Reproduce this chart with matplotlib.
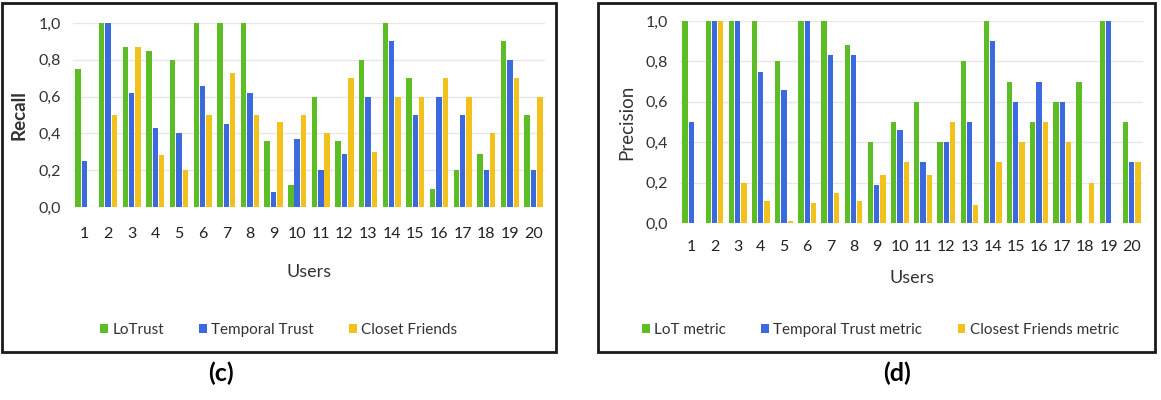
import numpy as np
import matplotlib
matplotlib.use("Agg")
import matplotlib.pyplot as plt
from matplotlib.patches import Rectangle

users = list(range(1, 21))

# (c) Recall
recall_lotrust = [0.75, 1.0, 0.87, 0.85, 0.80, 1.0, 1.0, 1.0, 0.36, 0.12,
                  0.60, 0.36, 0.80, 1.0, 0.70, 0.10, 0.20, 0.29, 0.90, 0.50]
recall_temporal = [0.25, 1.0, 0.62, 0.43, 0.40, 0.66, 0.45, 0.62, 0.08, 0.37,
                   0.20, 0.29, 0.60, 0.90, 0.50, 0.60, 0.50, 0.20, 0.80, 0.20]
recall_closet = [0.0, 0.50, 0.87, 0.28, 0.20, 0.50, 0.73, 0.50, 0.46, 0.50,
                 0.40, 0.70, 0.30, 0.60, 0.60, 0.70, 0.60, 0.40, 0.70, 0.60]

# (d) Precision
prec_lot = [1.0, 1.0, 1.0, 1.0, 0.80, 1.0, 1.0, 0.88, 0.40, 0.50,
            0.60, 0.40, 0.80, 1.0, 0.70, 0.50, 0.60, 0.70, 1.0, 0.50]
prec_temporal = [0.50, 1.0, 1.0, 0.75, 0.66, 1.0, 0.83, 0.83, 0.19, 0.46,
                 0.30, 0.40, 0.50, 0.90, 0.60, 0.70, 0.60, 0.0, 1.0, 0.30]
prec_closest = [0.0, 1.0, 0.20, 0.11, 0.01, 0.10, 0.15, 0.11, 0.24, 0.30,
                0.24, 0.50, 0.09, 0.30, 0.40, 0.50, 0.40, 0.20, 0.0, 0.30]

yticks = [0.0, 0.2, 0.4, 0.6, 0.8, 1.0]
ytick_labels = ["0,0", "0,2", "0,4", "0,6", "0,8", "1,0"]

green = "#5cbd24"
blue = "#3b6ade"
yellow = "#f3c11c"
text_col = "#333333"

plt.rcParams["font.family"] = ["Lato", "DejaVu Sans"]

W, H = 1161, 400
fig = plt.figure(figsize=(W / 100, H / 100), dpi=100)


def px_axes(x0, x1, ytop, ybot):
    return fig.add_axes([x0 / W, 1 - ybot / H, (x1 - x0) / W, (ybot - ytop) / H])


def draw_panel(ax, series, labels, xpad):
    x = np.array(users)
    step = 0.27
    handles = []
    for i, (vals, lab, col) in enumerate(zip(series, labels, [green, blue, yellow])):
        h = ax.bar(x + (i - 1) * step, vals, width=0.23, color=col, label=lab, zorder=3)
        handles.append(h)
    ax.set_xlim(0.5, 20.5)
    ax.set_ylim(0, 1.0)
    ax.set_yticks(yticks)
    ax.set_yticklabels(ytick_labels, fontsize=11.5, color=text_col)
    ax.set_xticks(x)
    ax.set_xticklabels([str(u) for u in users], fontsize=11.5, color="#222222")
    ax.tick_params(axis="both", length=0)
    ax.tick_params(axis="x", pad=xpad)
    ax.tick_params(axis="y", pad=8.5)
    ax.grid(axis="y", color="#e8e8e8", linewidth=1, zorder=0)
    for s in ax.spines.values():
        s.set_visible(False)
    return handles


def add_legend(handles, x_left):
    fig.legend(handles=handles, loc="center left", bbox_to_anchor=(x_left / W, 1 - 330 / H),
               ncol=3, frameon=False, fontsize=11, handlelength=0.5, handleheight=0.5,
               handletextpad=0.3, columnspacing=2.3, borderpad=0, borderaxespad=0,
               labelcolor=text_col)


# left panel (c)
ax1 = px_axes(72.6, 545.4, 23, 207)
h1 = draw_panel(ax1, [recall_lotrust, recall_temporal, recall_closet],
                ["LoTrust", "Temporal Trust", "Closet Friends"], 14.5)
fig.text(19 / W, 1 - 115 / H, "Recall", fontsize=13.5, fontweight="bold", color=text_col,
         rotation=90, ha="center", va="center")
fig.text(309 / W, 1 - 272 / H, "Users", fontsize=13, color=text_col, ha="center", va="center")
add_legend(h1, 100)

# right panel (d)
ax2 = px_axes(679.7, 1143.3, 21, 223)
h2 = draw_panel(ax2, [prec_lot, prec_temporal, prec_closest],
                ["LoT metric", "Temporal Trust metric", "Closest Friends metric"], 12)
fig.text(627 / W, 1 - 122 / H, "Precision", fontsize=13.5, color=text_col,
         rotation=90, ha="center", va="center")
fig.text(912 / W, 1 - 278 / H, "Users", fontsize=13, color=text_col, ha="center", va="center")
add_legend(h2, 642)

# panel borders
for x0, x1 in [(2, 556), (598, 1155)]:
    fig.patches.append(Rectangle((x0 / W, 1 - 352 / H), (x1 - x0) / W, (352 - 3) / H,
                                 transform=fig.transFigure, fill=False,
                                 edgecolor="#1a1a1a", linewidth=2))

fig.text(221 / W, 1 - 373 / H, "(c)", fontsize=18, fontweight="bold", ha="center", va="center")
fig.text(897 / W, 1 - 373 / H, "(d)", fontsize=18, fontweight="bold", ha="center", va="center")

fig.savefig("out.png", dpi=100)
